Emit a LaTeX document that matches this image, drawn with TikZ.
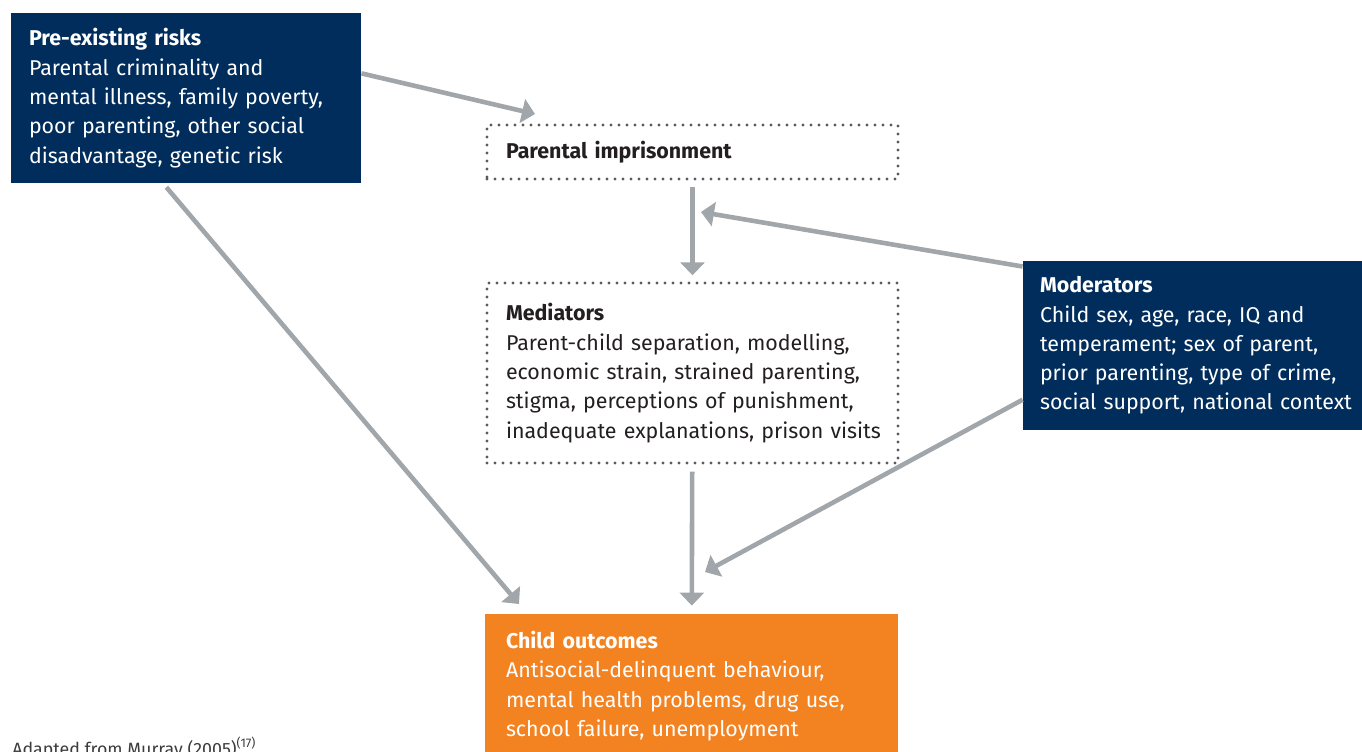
\documentclass[tikz,border=0pt]{standalone}
\usepackage{fontspec}
\setmainfont{Fira Sans}
\usetikzlibrary{arrows.meta}
\definecolor{navy}{RGB}{0, 45, 92}
\definecolor{amber}{RGB}{243, 130, 33}
\definecolor{steel}{RGB}{161, 166, 171}
\definecolor{dots}{RGB}{90, 90, 92}
\definecolor{ink}{RGB}{35, 31, 32}
\definecolor{note}{RGB}{60, 60, 62}

\begin{document}
\begin{tikzpicture}[x=0.5pt, y=-0.5pt,
    every node/.style={font=\fontsize{10.7}{14.65}\selectfont, align=left, inner ysep=0pt},
    darkbox/.style={fill=navy, text=white},
    dotbox/.style={draw=dots, line width=1.7pt, dash pattern=on 0pt off 4pt, line cap=round, text=ink},
    flow/.style={draw=steel, line width=2.3pt, -{Triangle[width=12pt, length=6.5pt]}}]
  \useasboundingbox (0, 0) rectangle (1362, 751);

  \node[darkbox, inner xsep=9pt, text width=157pt, minimum height=85pt] (risks) at (186, 98)
    {\textbf{Pre-existing risks}\\Parental criminality and\\mental illness, family poverty,\\poor parenting, other social\\disadvantage, genetic risk};
  \node[dotbox, inner xsep=9.5pt, text width=186.5pt, minimum height=27pt] (prison) at (692.5, 152)
    {\textbf{Parental imprisonment}};
  \node[dotbox, inner xsep=9.5pt, text width=186.5pt, minimum height=90pt] (mediators) at (692.5, 373)
    {\textbf{Mediators}\\Parent-child separation, modelling,\\economic strain, strained parenting,\\stigma, perceptions of punishment,\\\mbox{inadequate explanations, prison visits}};
  \node[darkbox, inner xsep=8.5pt, text width=160pt, minimum height=84.5pt] (moderators) at (1200, 345.5)
    {\textbf{Moderators}\\Child sex, age, race, IQ and\\temperament; sex of parent,\\prior parenting, type of crime,\\social support, national context};
  \node[fill=amber, text=white, inner xsep=10.5pt, text width=185.5pt, minimum height=89pt] (outcomes) at (691.5, 703)
    {\textbf{Child outcomes}\\Antisocial-delinquent behaviour,\\mental health problems, drug use,\\school failure, unemployment\\\strut};
  \node[anchor=base west, inner sep=0pt, text=note, font=\fontsize{8.9}{11}\selectfont] (source) at (12, 755) {Adapted from Murray (2005)\textsuperscript{(17)}};

  \coordinate (pitop) at (535, 114);
  \coordinate (childtop) at (519, 604);
  \coordinate (pijoin) at (701, 212);
  \coordinate (childjoin) at (705, 572);

  \draw[flow] (risks.8) -- (pitop);
  \draw[flow, shorten <=2.5pt] (risks.255) -- (childtop);
  \draw[flow, shorten <=3pt, shorten >=3pt] (prison) -- (mediators);
  \draw[flow, shorten <=3.5pt, shorten >=4pt] (mediators) -- (outcomes);
  \draw[flow] (moderators.156) -- (pijoin);
  \draw[flow] (moderators.197) -- (childjoin);
\end{tikzpicture}
\end{document}
